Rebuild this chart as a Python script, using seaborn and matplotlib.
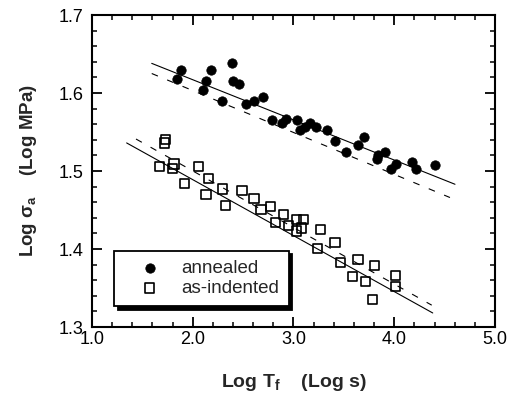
import matplotlib
matplotlib.use("Agg")
import matplotlib.pyplot as plt
import seaborn as sns
import pandas as pd
from matplotlib.ticker import MultipleLocator, FormatStrFormatter

# ---- data ----
annealed_logT = [1.841, 1.883, 2.106, 2.132, 2.178, 2.290, 2.386, 2.403, 2.459, 2.528,
                 2.605, 2.702, 2.787, 2.889, 2.926, 3.032, 3.060, 3.114, 3.164, 3.223,
                 3.330, 3.415, 3.521, 3.637, 3.700, 3.829, 3.842, 3.911, 3.963, 4.018,
                 4.179, 4.214, 4.404]
annealed_logS = [1.618, 1.630, 1.604, 1.616, 1.629, 1.590, 1.638, 1.616, 1.612, 1.586,
                 1.590, 1.595, 1.566, 1.561, 1.567, 1.565, 1.552, 1.556, 1.561, 1.556,
                 1.552, 1.539, 1.524, 1.533, 1.543, 1.515, 1.521, 1.525, 1.502, 1.509,
                 1.511, 1.503, 1.508]

indented_logT = [1.731, 1.718, 1.670, 1.814, 1.797, 2.061, 1.918, 2.154, 2.132, 2.292,
                 2.328, 2.489, 2.608, 2.677, 2.774, 2.899, 2.821, 2.948, 3.030, 3.097,
                 3.081, 3.032, 3.270, 3.238, 3.412, 3.470, 3.640, 3.807, 3.588, 3.715,
                 4.010, 4.010, 3.784]
indented_logS = [1.540, 1.536, 1.506, 1.509, 1.503, 1.506, 1.484, 1.490, 1.470, 1.477,
                 1.456, 1.475, 1.465, 1.451, 1.454, 1.444, 1.434, 1.430, 1.438, 1.438,
                 1.427, 1.423, 1.425, 1.401, 1.408, 1.383, 1.387, 1.379, 1.365, 1.358,
                 1.366, 1.352, 1.335]

# fit lines (end points)
annealed_fit_x = [1.593, 4.603]
annealed_fit_y = [1.638, 1.483]
annealed_dash_x = [1.593, 4.553]
annealed_dash_y = [1.625, 1.466]
indented_fit_x = [1.344, 4.382]
indented_fit_y = [1.536, 1.318]
indented_dash_x = [1.437, 4.372]
indented_dash_y = [1.541, 1.328]

series_labels = ["annealed", "as-indented"]
x_label = r"Log T$_{\mathregular{f}}$    (Log s)"
y_label = r"Log σ$_{\mathregular{a}}$    (Log MPa)"

# ---- style ----
sns.set_theme(style="ticks")
plt.rcParams["font.family"] = ["Liberation Sans", "DejaVu Sans"]
plt.rcParams["mathtext.fontset"] = "custom"
plt.rcParams["mathtext.rm"] = "Liberation Sans"
plt.rcParams["mathtext.default"] = "regular"

fig = plt.figure(figsize=(5.13, 3.97), dpi=100)
ax = fig.add_axes([0.1793, 0.1763, 0.7856, 0.7859])

df_a = pd.DataFrame({"x": annealed_logT, "y": annealed_logS})
df_i = pd.DataFrame({"x": indented_logT, "y": indented_logS})

sns.lineplot(x=annealed_fit_x, y=annealed_fit_y, ax=ax, color="black", lw=0.8)
sns.lineplot(x=annealed_dash_x, y=annealed_dash_y, ax=ax, color="black", lw=0.8,
             linestyle=(0, (6, 9)))
sns.lineplot(x=indented_fit_x, y=indented_fit_y, ax=ax, color="black", lw=0.8)
sns.lineplot(x=indented_dash_x, y=indented_dash_y, ax=ax, color="black", lw=0.8,
             linestyle=(0, (6, 9)))

sns.scatterplot(data=df_a, x="x", y="y", ax=ax, marker="o", s=46,
                color="black", edgecolor="black", linewidth=0.5,
                label=series_labels[0], zorder=3)
sns.scatterplot(data=df_i, x="x", y="y", ax=ax, marker="s", s=44,
                facecolor="none", edgecolor="black", linewidth=1.2,
                label=series_labels[1], zorder=3)

ax.set_xlim(1.0, 5.0)
ax.set_ylim(1.3, 1.7)
ax.xaxis.set_major_locator(MultipleLocator(1.0))
ax.xaxis.set_minor_locator(MultipleLocator(0.2))
ax.yaxis.set_major_locator(MultipleLocator(0.1))
ax.yaxis.set_minor_locator(MultipleLocator(0.02))
ax.xaxis.set_major_formatter(FormatStrFormatter("%.1f"))
ax.yaxis.set_major_formatter(FormatStrFormatter("%.1f"))
ax.tick_params(which="both", direction="in", top=True, right=True,
               colors="black", labelsize=13)
ax.tick_params(which="major", length=7, width=1.3)
ax.tick_params(axis="x", which="major", pad=3)
ax.tick_params(axis="y", which="major", pad=6)
ax.tick_params(which="minor", length=3.5, width=1.1)
for sp in ax.spines.values():
    sp.set_linewidth(1.5)
    sp.set_color("black")

ax.set_xlabel(x_label, fontsize=14, fontweight="bold", labelpad=17)
ax.set_ylabel(y_label, fontsize=13.5, fontweight="bold", labelpad=14)

handles, labels = ax.get_legend_handles_labels()
keep = [(h, l) for h, l in zip(handles, labels) if l in series_labels]
leg = ax.legend([h for h, _ in keep], [l for _, l in keep],
                loc="upper left", bbox_to_anchor=(0.055, 0.245),
                fontsize=13.5, frameon=True, fancybox=False,
                edgecolor="black", framealpha=1,
                shadow={"ox": 2.5, "oy": -2.5, "color": "black", "alpha": 1},
                handlelength=2.8, handletextpad=0.3, borderpad=0.5,
                labelspacing=0.15, borderaxespad=0)
leg.get_frame().set_linewidth(1.3)

fig.savefig("out.png", dpi=100)
